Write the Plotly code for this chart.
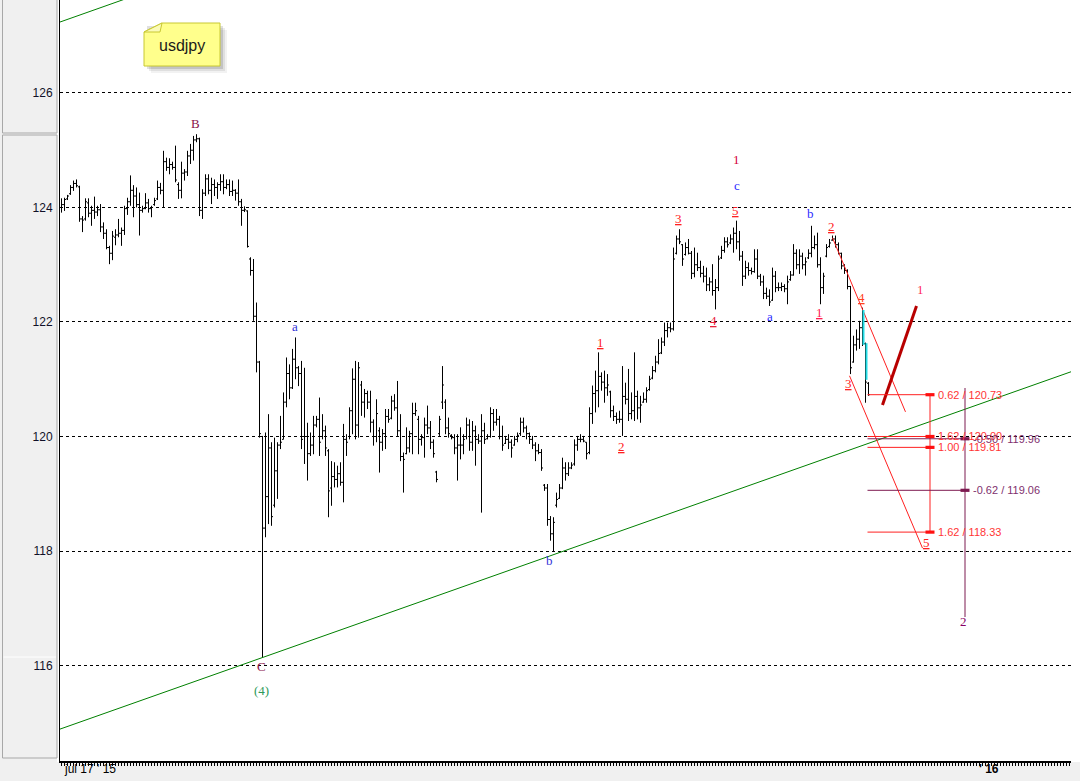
import plotly.graph_objects as go

# ---- usdjpy bars (one bar per slot, left to right) ----
HIGH = [
    124.16, 124.17, 124.22, 124.39, 124.47, 124.49, 124.38, 123.85, 124.16, 124.16,
    124.03, 124.19, 124.03, 124.06, 123.74, 123.62, 123.33, 123.59, 123.62, 123.80,
    123.65, 124.03, 124.17, 124.56, 124.39, 124.35, 124.26, 124.03, 124.25, 124.15,
    124.03, 124.17, 124.47, 124.43, 124.99, 124.87, 124.86, 124.80, 125.08, 124.44,
    124.80, 124.67, 124.99, 125.11, 125.25, 125.28, 125.22, 124.32, 124.58, 124.58,
    124.52, 124.49, 124.44, 124.58, 124.58, 124.49, 124.49, 124.47, 124.32, 124.49,
    124.15, 124.02, 123.95, 123.13, 123.10, 122.34, 121.32, 120.01, 120.07, 120.39,
    119.90, 119.98, 119.90, 120.36, 120.77, 121.38, 121.26, 121.53, 121.73, 121.23,
    121.32, 121.20, 120.24, 120.07, 120.36, 120.36, 120.68, 120.39, 120.19, 119.78,
    119.57, 119.55, 119.49, 119.55, 120.22, 120.04, 120.51, 121.19, 121.32, 121.30,
    120.97, 120.83, 120.80, 120.80, 120.30, 120.65, 120.16, 120.13, 120.48, 120.48,
    120.71, 120.74, 120.97, 120.39, 119.72, 120.16, 120.10, 120.59, 120.59, 120.36,
    120.04, 120.33, 120.54, 120.27, 119.95, 119.40, 120.36, 121.23, 120.65, 120.33,
    120.04, 120.04, 120.04, 120.16, 120.04, 120.33, 120.30, 120.27, 120.19, 120.04,
    120.39, 120.24, 120.04, 120.51, 120.48, 120.48, 120.36, 120.19, 120.01, 120.04,
    119.95, 120.01, 120.07, 120.33, 120.33, 120.19, 120.07, 120.01, 119.90, 119.87,
    119.78, 119.17, 119.17, 118.61, 118.59, 119.02, 119.17, 119.63, 119.55, 119.55,
    119.55, 119.95, 120.01, 120.04, 120.01, 119.90, 120.51, 120.89, 121.15, 121.47,
    121.12, 121.15, 121.09, 120.80, 120.54, 120.42, 120.45, 121.23, 120.94, 121.18,
    120.77, 121.47, 120.80, 120.71, 120.77, 120.86, 121.06, 121.23, 121.41, 121.70,
    121.73, 121.99, 121.99, 121.99, 123.30, 123.51, 123.62, 123.36, 123.39, 123.45,
    123.24, 123.30, 123.21, 123.07, 122.98, 122.95, 122.78, 123.01, 122.75, 123.16,
    123.33, 123.48, 123.48, 123.53, 123.65, 123.77, 123.59, 123.24, 123.07, 123.04,
    122.95, 123.27, 123.27, 122.84, 122.81, 122.60, 122.57, 122.95, 122.89, 122.69,
    122.69, 122.66, 122.81, 122.89, 123.36, 123.27, 123.27, 123.21, 123.13, 123.27,
    123.68, 123.51, 123.56, 123.13, 122.86, 123.36, 123.45, 123.51, 123.51, 123.39,
    123.21, 123.01, 122.92, 122.63, 121.76, 121.87, 122.02, 122.25, 121.64, 120.95,
]
LOW = [
    123.91, 123.94, 124.13, 124.22, 124.29, 124.35, 123.75, 123.57, 123.77, 123.83,
    123.68, 123.80, 123.85, 123.57, 123.45, 123.27, 123.01, 123.08, 123.34, 123.48,
    123.33, 123.52, 123.87, 124.03, 123.83, 124.00, 123.51, 123.91, 123.97, 123.91,
    123.83, 124.03, 124.13, 124.23, 124.00, 124.64, 124.58, 124.66, 124.44, 124.15,
    124.16, 124.47, 124.55, 124.76, 124.82, 125.14, 123.85, 123.80, 124.20, 124.23,
    124.06, 124.20, 124.15, 124.29, 124.23, 124.32, 124.20, 124.20, 124.12, 124.03,
    123.68, 123.92, 123.30, 122.81, 122.02, 121.12, 119.98, 116.14, 118.24, 118.47,
    118.44, 118.76, 118.91, 119.78, 119.95, 120.51, 120.65, 120.83, 121.00, 120.88,
    119.78, 119.52, 119.23, 119.66, 119.69, 120.16, 119.66, 119.95, 119.66, 118.59,
    118.79, 119.11, 119.11, 119.14, 118.85, 119.66, 119.95, 120.04, 119.95, 119.98,
    120.36, 120.33, 120.48, 120.07, 119.84, 119.90, 119.37, 119.75, 119.78, 120.24,
    120.30, 120.45, 120.01, 119.57, 119.02, 119.69, 119.72, 119.69, 120.36, 119.69,
    119.84, 119.63, 120.04, 119.78, 119.63, 119.20, 120.01, 120.48, 120.04, 119.98,
    119.95, 119.69, 119.23, 119.60, 119.69, 119.95, 119.75, 119.75, 119.49, 119.87,
    118.67, 119.87, 119.95, 119.98, 120.10, 120.19, 119.95, 119.75, 119.87, 119.78,
    119.63, 119.84, 119.90, 120.01, 120.07, 119.95, 119.87, 119.78, 119.57, 119.69,
    119.40, 119.05, 118.44, 118.18, 118.00, 118.76, 118.91, 119.08, 119.23, 119.31,
    119.43, 119.49, 119.75, 119.90, 119.90, 119.60, 119.69, 120.22, 120.42, 120.51,
    120.80, 120.59, 120.71, 120.33, 120.27, 120.22, 120.24, 120.01, 120.56, 120.27,
    120.30, 120.27, 120.30, 120.24, 120.59, 120.59, 120.80, 121.00, 121.12, 121.26,
    121.44, 121.58, 121.73, 121.82, 121.85, 123.18, 123.36, 122.98, 123.16, 123.18,
    122.75, 122.78, 122.89, 122.78, 122.69, 122.54, 122.54, 122.46, 122.22, 122.54,
    123.10, 123.21, 123.30, 123.36, 123.21, 123.27, 123.07, 122.63, 122.75, 122.81,
    122.83, 122.86, 122.75, 122.63, 122.40, 122.40, 122.28, 122.37, 122.52, 122.54,
    122.54, 122.52, 122.31, 122.72, 122.81, 122.92, 122.84, 122.92, 122.81, 123.10,
    123.13, 123.27, 122.95, 122.31, 122.49, 123.13, 123.30, 123.42, 123.30, 123.18,
    122.92, 122.84, 122.57, 121.09, 121.29, 121.50, 121.53, 121.58, 120.59, 120.71,
]
OPEN = [
    124.00, 124.05, 124.15, 124.24, 124.35, 124.42, 124.36, 123.80, 123.80, 124.08,
    123.90, 123.95, 123.92, 123.96, 123.66, 123.55, 123.30, 123.20, 123.48, 123.52,
    123.55, 123.60, 123.98, 124.10, 124.30, 124.20, 124.05, 123.95, 123.98, 124.08,
    123.98, 124.05, 124.15, 124.35, 124.30, 124.80, 124.70, 124.75, 124.70, 124.40,
    124.30, 124.60, 124.62, 124.90, 125.00, 125.18, 125.20, 123.95, 124.25, 124.50,
    124.30, 124.40, 124.35, 124.40, 124.45, 124.35, 124.40, 124.28, 124.30, 124.25,
    124.10, 123.95, 123.94, 123.10, 122.90, 122.10, 121.30, 120.00, 118.40, 118.95,
    119.80, 118.80, 119.40, 119.85, 119.95, 120.60, 121.10, 120.85, 121.35, 121.20,
    121.10, 120.00, 120.00, 119.70, 119.85, 120.20, 120.30, 120.00, 120.10, 119.75,
    119.10, 119.30, 119.25, 119.35, 119.20, 119.95, 120.00, 120.45, 121.00, 120.20,
    120.90, 120.60, 120.75, 120.60, 120.25, 120.00, 120.10, 119.90, 120.05, 120.35,
    120.32, 120.62, 120.50, 120.10, 119.65, 119.70, 119.80, 120.05, 120.40, 120.30,
    119.95, 119.98, 120.20, 120.15, 119.90, 119.38, 120.05, 120.60, 120.60, 120.15,
    120.02, 119.98, 119.80, 119.85, 119.85, 120.00, 120.20, 119.90, 120.10, 119.95,
    119.92, 120.10, 119.96, 120.00, 120.40, 120.25, 120.30, 120.00, 119.88, 119.95,
    119.90, 119.85, 119.95, 120.05, 120.25, 120.15, 120.05, 119.95, 119.85, 119.75,
    119.72, 119.15, 119.10, 118.55, 118.30, 118.80, 118.92, 119.10, 119.45, 119.35,
    119.45, 119.52, 119.85, 119.95, 119.95, 119.90, 119.72, 120.40, 120.75, 120.80,
    121.05, 120.95, 120.85, 120.78, 120.45, 120.35, 120.30, 120.30, 120.70, 120.65,
    120.40, 120.45, 120.70, 120.50, 120.60, 120.65, 120.82, 121.02, 121.15, 121.30,
    121.46, 121.65, 121.85, 121.90, 121.88, 123.20, 123.45, 123.35, 123.18, 123.30,
    123.20, 122.85, 123.00, 122.95, 122.85, 122.80, 122.65, 122.70, 122.55, 122.60,
    123.12, 123.25, 123.40, 123.38, 123.45, 123.55, 123.40, 123.15, 122.80, 122.95,
    122.90, 122.88, 123.10, 122.80, 122.70, 122.50, 122.45, 122.38, 122.80, 122.60,
    122.60, 122.62, 122.58, 122.74, 122.82, 123.20, 123.00, 123.15, 123.00, 123.12,
    123.20, 123.30, 123.35, 123.00, 122.60, 123.15, 123.32, 123.43, 123.45, 123.35,
    123.20, 122.98, 122.90, 122.62, 121.30, 121.60, 121.70, 121.90, 121.62, 120.93,
]
CLOSE = [
    124.05, 124.14, 124.20, 124.35, 124.42, 124.38, 123.80, 123.78, 124.10, 123.90,
    123.95, 123.92, 123.96, 123.66, 123.55, 123.30, 123.20, 123.50, 123.52, 123.55,
    123.60, 123.98, 124.10, 124.30, 124.20, 124.05, 123.95, 123.98, 124.08, 123.98,
    124.00, 124.12, 124.35, 124.30, 124.80, 124.70, 124.75, 124.70, 124.48, 124.30,
    124.60, 124.62, 124.90, 125.00, 125.18, 125.20, 123.95, 124.25, 124.50, 124.30,
    124.40, 124.35, 124.40, 124.45, 124.35, 124.40, 124.28, 124.30, 124.25, 124.10,
    123.95, 123.96, 123.32, 122.90, 122.10, 121.30, 120.05, 118.40, 118.95, 119.80,
    118.60, 119.40, 119.85, 119.90, 120.60, 121.10, 120.85, 121.35, 121.20, 121.10,
    119.95, 120.00, 119.70, 119.85, 120.20, 120.30, 119.90, 120.10, 119.80, 119.05,
    119.30, 119.25, 119.35, 119.20, 119.95, 119.90, 120.45, 121.00, 120.20, 121.20,
    120.60, 120.75, 120.60, 120.25, 120.00, 120.40, 119.90, 120.05, 120.35, 120.30,
    120.62, 120.50, 120.10, 119.65, 119.60, 119.80, 120.05, 120.40, 120.45, 119.95,
    119.98, 120.20, 120.15, 119.90, 119.70, 119.25, 120.30, 120.90, 120.15, 120.05,
    119.98, 119.80, 119.85, 119.85, 119.95, 120.20, 119.90, 120.10, 119.95, 119.92,
    120.10, 119.95, 120.00, 120.40, 120.25, 120.30, 120.00, 119.85, 119.95, 119.90,
    119.80, 119.95, 120.02, 120.25, 120.15, 120.05, 119.95, 119.85, 119.75, 119.72,
    119.45, 119.10, 118.55, 118.30, 118.50, 118.90, 119.10, 119.45, 119.35, 119.45,
    119.50, 119.85, 119.95, 119.95, 119.92, 119.70, 120.40, 120.75, 120.80, 121.05,
    120.95, 120.85, 120.90, 120.45, 120.35, 120.30, 120.30, 120.70, 120.65, 120.40,
    120.45, 120.70, 120.50, 120.55, 120.65, 120.80, 121.00, 121.15, 121.30, 121.45,
    121.65, 121.85, 121.90, 121.88, 123.10, 123.45, 123.40, 123.10, 123.30, 123.20,
    122.85, 123.00, 122.95, 122.85, 122.80, 122.65, 122.70, 122.55, 122.60, 123.10,
    123.25, 123.40, 123.35, 123.45, 123.55, 123.40, 123.15, 122.80, 122.95, 122.90,
    122.88, 123.10, 122.80, 122.70, 122.50, 122.45, 122.35, 122.80, 122.60, 122.60,
    122.62, 122.58, 122.70, 122.82, 123.20, 123.00, 123.15, 123.00, 123.05, 123.20,
    123.30, 123.35, 123.00, 122.60, 122.80, 123.30, 123.38, 123.45, 123.35, 123.20,
    122.98, 122.90, 122.62, 121.20, 121.60, 121.70, 121.90, 121.65, 120.95, 120.73,
]

# ---- axis ----
Y_TICKS = [116, 118, 120, 122, 124, 126]
X_LABELS = ["jul 17 ' 15", "' 16"]
X_LABEL_POS = [0, 305.3]

# ---- fibonacci projections ----
FIB_RED_RATIOS = ["0.62", "1.62", "1.00", "1.62"]
FIB_RED_LEVELS = [120.73, 120.00, 119.81, 118.33]
FIB_PURPLE_RATIOS = ["-0.50", "-0.62"]
FIB_PURPLE_LEVELS = [119.96, 119.06]

# ---- wave counts: text, slot, price, colour, underlined ----
WAVE_LABELS = [
    ("B", 44.67, 125.46, "#8a1048", False),
    ("C", 66.67, 115.99, "#8a1048", False),
    ("(4)", 66.67, 115.57, "#2e9a5a", False),
    ("a", 77.67, 121.93, "#3030d8", False),
    ("b", 162.67, 117.84, "#3030d8", False),
    ("1", 179.67, 121.65, "#ff2020", True),
    ("2", 186.67, 119.83, "#ff2020", True),
    ("3", 205.67, 123.80, "#ff2020", True),
    ("4", 217.33, 122.03, "#e8203a", True),
    ("5", 224.67, 123.94, "#ff2020", True),
    ("1", 225.0, 124.83, "#d4003a", False),
    ("c", 225.0, 124.39, "#2a2aff", False),
    ("a", 236.33, 122.09, "#2a2aff", False),
    ("b", 249.67, 123.89, "#2a2aff", False),
    ("1", 252.67, 122.16, "#ff1a50", True),
    ("2", 256.67, 123.66, "#ff2020", True),
    ("3", 262.33, 120.93, "#ff2020", True),
    ("4", 266.67, 122.42, "#ff4020", True),
    ("5", 288.33, 118.14, "#ff2020", True),
    ("1", 286.33, 122.56, "#ff2a5a", False),
    ("2", 300.67, 116.76, "#880066", False),
]

# plot area in page pixels
PL, PR, PT, PB = 60, 1071, 0, 761
X_RANGE = [-0.5, 336.5]
Y_RANGE = [114.332, 127.624]


def fx(px):
    return (px - PL) / (PR - PL)


def fy(py):
    return (PB - py) / (PB - PT)


def sx(px):
    # page pixel -> bar slot
    return X_RANGE[0] + (px - PL) / (PR - PL) * (X_RANGE[1] - X_RANGE[0])


def sy(py):
    return Y_RANGE[1] - (py - PT) / (PB - PT) * (Y_RANGE[1] - Y_RANGE[0])


slots = list(range(len(HIGH)))

fig = go.Figure()

fig.add_trace(go.Ohlc(
    x=slots, open=OPEN, high=HIGH, low=LOW, close=CLOSE,
    increasing=dict(line=dict(color="black", width=1)),
    decreasing=dict(line=dict(color="black", width=1)),
    tickwidth=0.5, hoverinfo="skip", showlegend=False,
))


def seg(x0, y0, x1, y1, color, width):
    fig.add_trace(go.Scatter(
        x=[x0, x1], y=[y0, y1], mode="lines",
        line=dict(color=color, width=width),
        hoverinfo="skip", showlegend=False,
    ))


# trend channel
seg(-1.0, 114.88, 337.0, 121.14, "#008000", 1)
seg(-1.0, 127.23, 40.0, 127.99, "#008000", 1)

# wave 3-5 channel
seg(257.0, 123.47, 281.33, 120.43, "#ff2020", 1)
seg(262.67, 121.06, 287.0, 118.05, "#ff2020", 1)
# projected wave 1
seg(273.67, 120.55, 285.0, 122.28, "#b80000", 3)

# live bar highlight
seg(267.33, 122.21, 267.33, 121.60, "#22dde6", 2)
seg(268.33, 121.63, 268.33, 120.99, "#22dde6", 2)

# red projection
red_x0, red_x1 = sx(867.5), sx(930)
for lv in FIB_RED_LEVELS:
    seg(red_x0, lv, red_x1, lv, "#ff2020", 1)
seg(red_x1, FIB_RED_LEVELS[0], red_x1, FIB_RED_LEVELS[-1], "#ff2020", 1)

# purple projection
pur_x0, pur_x1 = sx(867.5), sx(965)
for lv in FIB_PURPLE_LEVELS:
    seg(pur_x0, lv, pur_x1, lv, "#7d1a50", 1)
seg(pur_x1, sy(388), pur_x1, sy(617), "#7d1a50", 1)

shapes = []
# level handles
for lv in FIB_RED_LEVELS:
    shapes.append(dict(type="rect", xref="x", yref="y",
                       x0=sx(925.5), x1=sx(934.5), y0=lv - 0.028, y1=lv + 0.028,
                       fillcolor="#ff1010", line=dict(width=0)))
for lv in FIB_PURPLE_LEVELS:
    shapes.append(dict(type="rect", xref="x", yref="y",
                       x0=sx(960.5), x1=sx(969.5), y0=lv - 0.028, y1=lv + 0.028,
                       fillcolor="#7d1a50", line=dict(width=0)))

# window chrome: white chart area, grey side panel
shapes.append(dict(type="rect", xref="paper", yref="paper", layer="below",
                   x0=fx(57), x1=fx(1080), y0=fy(762), y1=fy(0),
                   fillcolor="white", line=dict(width=0)))
shapes.append(dict(type="rect", xref="paper", yref="paper", layer="below",
                   x0=fx(2.5), x1=fx(57), y0=fy(133), y1=fy(-2),
                   fillcolor="#f0f0f0", line=dict(color="#a8a8a8", width=1)))
shapes.append(dict(type="rect", xref="paper", yref="paper", layer="below",
                   x0=fx(2.5), x1=fx(57), y0=fy(758), y1=fy(135),
                   fillcolor="#f0f0f0", line=dict(color="#a8a8a8", width=1)))
shapes.append(dict(type="line", xref="paper", yref="paper", layer="below",
                   x0=fx(3.5), x1=fx(56), y0=fy(657), y1=fy(657),
                   line=dict(color="#ffffff", width=1)))

# note box with soft drop shadow
for off, alpha in ((7, 0.05), (5, 0.08), (3, 0.12)):
    shapes.append(dict(type="rect", xref="paper", yref="paper",
                       x0=fx(144 + off), x1=fx(220 + off), y0=fy(66 + off), y1=fy(23 + off),
                       fillcolor=f"rgba(0,0,0,{alpha})", line=dict(width=0)))
note_path = "M {},{} L {},{} L {},{} L {},{} L {},{} Z".format(
    fx(162), fy(23), fx(220), fy(23), fx(220), fy(66), fx(144), fy(66), fx(144), fy(32))
shapes.append(dict(type="path", xref="paper", yref="paper", path=note_path,
                   fillcolor="#ffff8c", line=dict(color="#c8c832", width=1)))
fold_path = "M {},{} L {},{} L {},{} Z".format(
    fx(144), fy(32), fx(162), fy(23), fx(160), fy(32))
shapes.append(dict(type="path", xref="paper", yref="paper", path=fold_path,
                   fillcolor="#fbfbb8", line=dict(color="#c8c832", width=1)))

annotations = []
annotations.append(dict(xref="paper", yref="paper", x=fx(182), y=fy(46),
                        xanchor="center", yanchor="middle",
                        text="usdjpy", showarrow=False,
                        font=dict(family="Liberation Sans, Arial", size=16, color="#1a1a1a")))

for text, xs, ys, col, under in WAVE_LABELS:
    font = dict(family="Liberation Serif, Times New Roman", size=13, color=col)
    if under:
        font["lineposition"] = "under"
    annotations.append(dict(xref="x", yref="y", x=xs, y=ys, text=text,
                            xanchor="center", yanchor="middle",
                            showarrow=False, font=font))

for ratio, lv in zip(FIB_RED_RATIOS, FIB_RED_LEVELS):
    annotations.append(dict(xref="x", yref="y", x=sx(936), y=lv,
                            text=f"{ratio} / {lv:.2f}", showarrow=False,
                            xanchor="left", yanchor="middle",
                            font=dict(family="Liberation Sans, Arial", size=11, color="#ff3535")))
for ratio, lv in zip(FIB_PURPLE_RATIOS, FIB_PURPLE_LEVELS):
    annotations.append(dict(xref="x", yref="y", x=sx(971), y=lv,
                            text=f"{ratio} / {lv:.2f}", showarrow=False,
                            xanchor="left", yanchor="middle",
                            font=dict(family="Liberation Sans, Arial", size=11, color="#80306e")))

for lab, pos in zip(X_LABELS, X_LABEL_POS):
    bold = lab.startswith("'")
    annotations.append(dict(xref="x", yref="paper", x=pos, y=fy(769),
                            text=f"<b>{lab}</b>" if bold else lab, showarrow=False,
                            xanchor="left", yanchor="middle",
                            font=dict(family="Liberation Sans, Arial", size=12, color="#000000")))

fig.update_layout(
    width=1080, height=781,
    margin=dict(l=PL, r=1080 - PR, t=PT, b=781 - PB, pad=0),
    paper_bgcolor="#f0f0f0", plot_bgcolor="white",
    showlegend=False, shapes=shapes, annotations=annotations,
    xaxis=dict(range=X_RANGE, showgrid=False, zeroline=False,
               showline=True, linecolor="black", linewidth=2,
               ticks="outside", ticklen=3, tickwidth=1, tickcolor="black",
               tick0=0, dtick=1, showticklabels=False,
               rangeslider=dict(visible=False), fixedrange=True),
    yaxis=dict(range=Y_RANGE, tickvals=Y_TICKS, ticktext=[str(t) for t in Y_TICKS],
               showgrid=True, gridcolor="black", griddash="3px,3px", gridwidth=1,
               zeroline=False, showline=True, linecolor="black", linewidth=1,
               ticks="", ticklabelstandoff=4,
               tickfont=dict(family="Liberation Sans, Arial", size=12, color="#101028"),
               fixedrange=True),
)

fig.write_html("out.html")
